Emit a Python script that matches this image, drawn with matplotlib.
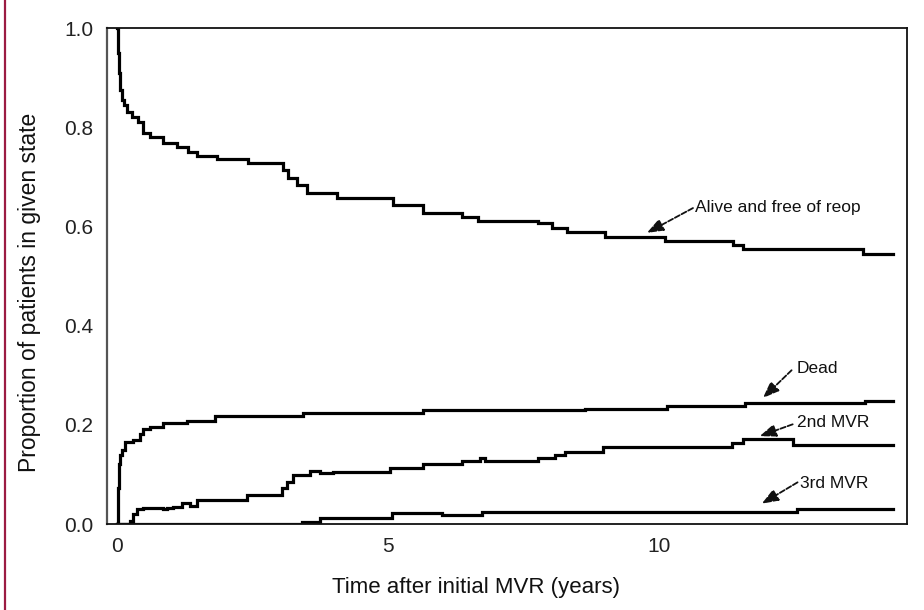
import matplotlib
matplotlib.use("Agg")
import matplotlib.pyplot as plt
from matplotlib.lines import Line2D

plt.rcParams['font.family'] = ['Liberation Sans', 'DejaVu Sans']

# ---- data ----
alive_t = [0.0, 0.015, 0.03, 0.05, 0.09, 0.13, 0.18, 0.28, 0.39, 0.48, 0.61, 0.85, 1.11, 1.31,
           1.48, 1.85, 2.42, 3.06, 3.15, 3.32, 3.5, 4.06, 5.09, 5.65, 6.37, 6.66, 7.77, 8.03,
           8.3, 9.0, 10.11, 11.37, 11.55, 13.76, 14.32]
alive_v = [1.0, 0.95, 0.91, 0.875, 0.855, 0.845, 0.831, 0.821, 0.811, 0.789, 0.781, 0.768, 0.761,
           0.75, 0.742, 0.736, 0.728, 0.714, 0.698, 0.684, 0.668, 0.658, 0.643, 0.627, 0.619,
           0.611, 0.607, 0.597, 0.589, 0.579, 0.571, 0.563, 0.555, 0.545, 0.545]

dead_t = [0.0, 0.01, 0.02, 0.04, 0.055, 0.09, 0.15, 0.3, 0.42, 0.48, 0.61, 0.85, 1.29, 1.81,
          3.43, 5.65, 8.63, 10.15, 11.59, 13.8, 14.32]
dead_v = [0.0, 0.03, 0.073, 0.12, 0.14, 0.149, 0.165, 0.169, 0.182, 0.192, 0.196, 0.203, 0.208,
          0.217, 0.223, 0.229, 0.231, 0.237, 0.243, 0.247, 0.247]

mvr2_t = [0.0, 0.24, 0.3, 0.37, 0.48, 0.85, 0.92, 1.03, 1.2, 1.35, 1.48, 2.4, 3.04, 3.14, 3.25,
          3.56, 3.75, 3.99, 5.04, 5.65, 6.37, 6.7, 6.79, 7.77, 8.08, 8.27, 8.97, 11.35, 11.55,
          12.47, 14.32]
mvr2_v = [0.0, 0.007, 0.021, 0.031, 0.033, 0.031, 0.033, 0.035, 0.043, 0.037, 0.049, 0.058,
          0.072, 0.084, 0.098, 0.106, 0.102, 0.104, 0.112, 0.121, 0.128, 0.134, 0.128, 0.134,
          0.14, 0.146, 0.155, 0.163, 0.171, 0.159, 0.159]

mvr3_t = [0.0, 3.41, 3.75, 5.07, 5.99, 6.73, 12.55, 14.32]
mvr3_v = [0.0, 0.005, 0.013, 0.023, 0.019, 0.025, 0.031, 0.031]

x_ticks = [0, 5, 10]
y_ticks = [0.0, 0.2, 0.4, 0.6, 0.8, 1.0]
y_ticklabels = ["0.0", "0.2", "0.4", "0.6", "0.8", "1.0"]

labels = ["Alive and free of reop", "Dead", "2nd MVR", "3rd MVR"]
x_label = "Time after initial MVR (years)"
y_label = "Proportion of patients in given state"

# ---- figure ----
W, H = 924, 610
fig = plt.figure(figsize=(W / 100, H / 100), dpi=100)
fig.patch.set_facecolor('white')
ax = fig.add_axes([107 / W, 1 - 524 / H, 800 / W, 496 / H])

for t, v in [(alive_t, alive_v), (dead_t, dead_v), (mvr2_t, mvr2_v), (mvr3_t, mvr3_v)]:
    ax.step(t, v, where='post', color='black', lw=2.3, solid_joinstyle='miter')

ax.set_xlim(-0.185, 14.58)
ax.set_ylim(0.0, 1.0)
ax.set_xticks(x_ticks)
ax.set_xticklabels([str(x) for x in x_ticks])
ax.set_yticks(y_ticks)
ax.set_yticklabels(y_ticklabels)
ax.tick_params(axis='both', length=0, labelsize=15, colors='#222222')
ax.tick_params(axis='x', pad=9)
ax.tick_params(axis='y', pad=10)

for s in ['top', 'right', 'bottom']:
    ax.spines[s].set_color('#111111')
    ax.spines[s].set_linewidth(1.3)
ax.spines['left'].set_color('#555555')
ax.spines['left'].set_linewidth(1.6)

# annotations: (label, arrow tip, arrow tail, text position)
ann = [
    (labels[0], (9.78, 0.587), (10.63, 0.637), (10.66, 0.639)),
    (labels[1], (11.92, 0.254), (12.45, 0.310), (12.55, 0.314)),
    (labels[2], (11.86, 0.177), (12.47, 0.201), (12.55, 0.205)),
    (labels[3], (11.90, 0.041), (12.56, 0.084), (12.60, 0.082)),
]
for txt, tip, tail, tpos in ann:
    ax.annotate('', xy=tip, xytext=tail,
                arrowprops=dict(arrowstyle='-|>,head_length=1.0,head_width=0.38',
                                lw=1.3, color='#111111', linestyle=(0, (3, 1.2)),
                                shrinkA=0, shrinkB=0))
    ax.text(tpos[0], tpos[1], txt, ha='left', va='center', fontsize=12.5, color='#111111')

fig.text(476 / W, 1 - 588 / H, x_label, ha='center', va='center', fontsize=16, color='#111111')
fig.text(30 / W, 1 - 292 / H, y_label, ha='center', va='center', rotation=90,
         fontsize=16.5, color='#111111')

# dark red page border on the left
fig.add_artist(Line2D([5 / W, 5 / W], [0, 1], transform=fig.transFigure,
                      color='#9b1b42', lw=1.6))

fig.savefig('out.png', dpi=100, facecolor='white')
